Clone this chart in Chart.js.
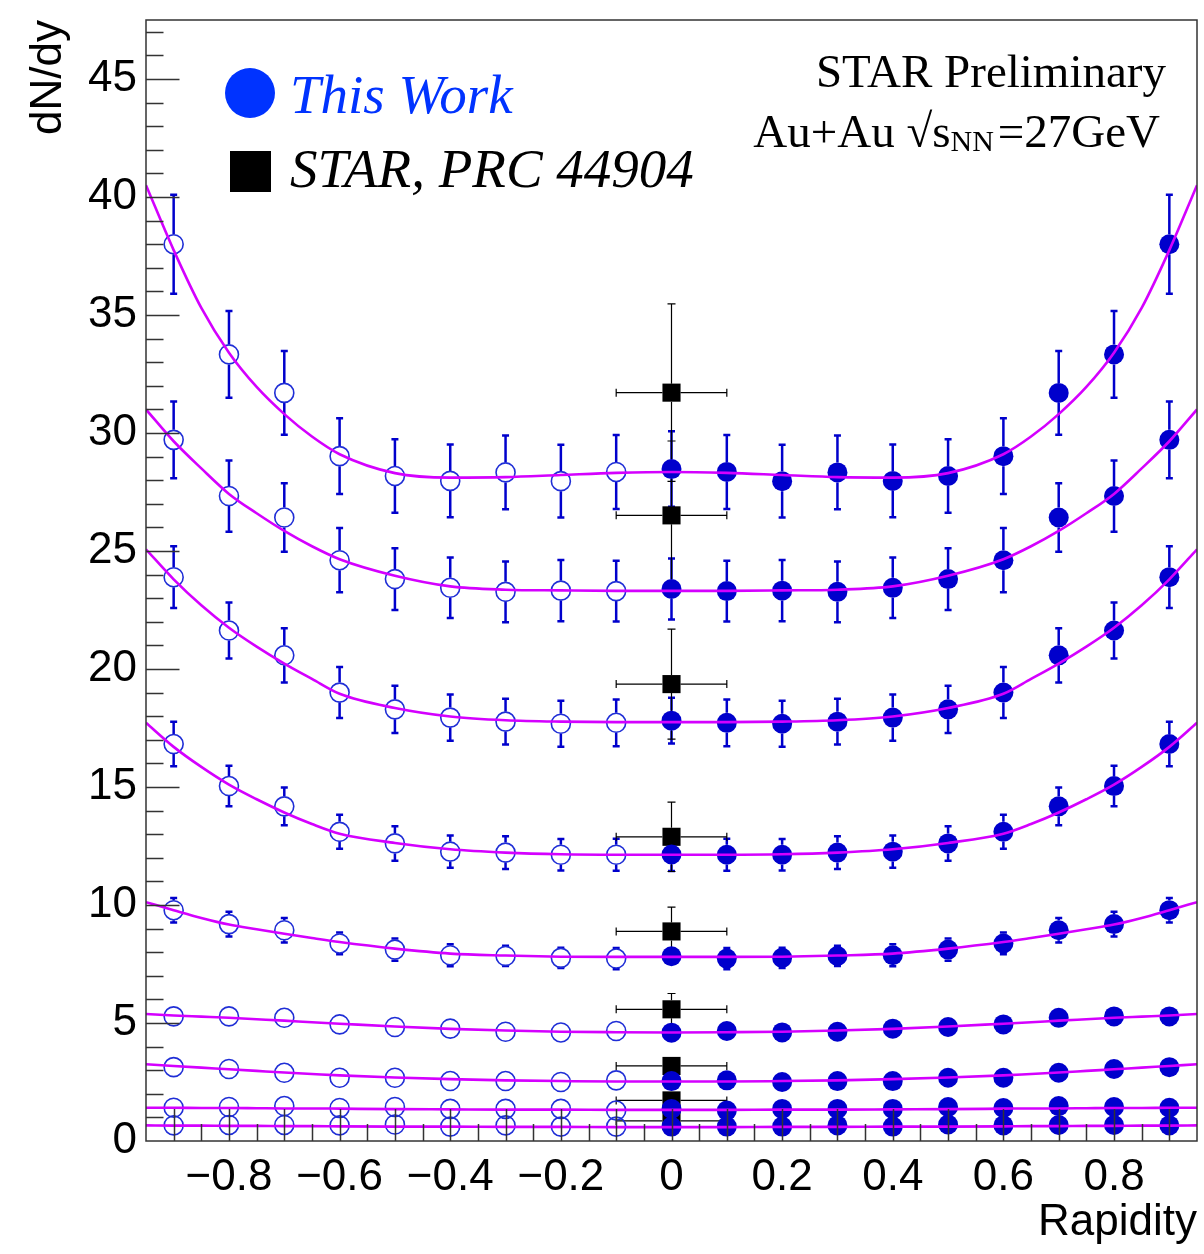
<!DOCTYPE html>
<html>
<head>
<meta charset="utf-8">
<title>dN/dy vs rapidity</title>
<script src="https://cdn.jsdelivr.net/npm/chart.js@4/dist/chart.umd.min.js"></script>
<style>
  body { margin: 0; background: #fff; }
  canvas { display: block; }
</style>
</head>
<body>
<canvas id="myChart" width="1204" height="1254"></canvas>
<script>
// measured rapidity bins (y >= 0); open markers are the same points reflected to -y
const rapidity = [0, 0.1, 0.2, 0.3, 0.4, 0.5, 0.6, 0.7, 0.8, 0.9];

// dN/dy per centrality class, most central first
const dndy = [
  [28.47, 28.35, 27.96, 28.33, 27.97, 28.18, 29.02, 31.70, 33.33, 38.00],
  [23.39, 23.30, 23.32, 23.27, 23.44, 23.81, 24.61, 26.42, 27.33, 29.71],
  [17.81, 17.72, 17.68, 17.77, 17.94, 18.29, 19.00, 20.58, 21.63, 23.89],
  [12.14, 12.13, 12.13, 12.22, 12.26, 12.61, 13.10, 14.18, 15.04, 16.82],
  [7.83, 7.73, 7.76, 7.84, 7.87, 8.11, 8.37, 8.93, 9.19, 9.78],
  [4.59, 4.66, 4.60, 4.63, 4.76, 4.83, 4.94, 5.22, 5.28, 5.28],
  [2.54, 2.57, 2.50, 2.54, 2.54, 2.68, 2.68, 2.89, 3.05, 3.13],
  [1.36, 1.29, 1.36, 1.36, 1.36, 1.44, 1.40, 1.48, 1.44, 1.41],
  [0.61, 0.61, 0.61, 0.66, 0.61, 0.70, 0.66, 0.68, 0.68, 0.66]
];

const dndyErr = [
  [1.60, 1.57, 1.54, 1.56, 1.54, 1.56, 1.61, 1.77, 1.84, 2.10],
  [1.29, 1.29, 1.30, 1.29, 1.28, 1.31, 1.36, 1.45, 1.51, 1.63],
  [0.97, 0.99, 0.97, 0.97, 0.98, 1.00, 1.08, 1.15, 1.19, 1.31],
  [0.70, 0.68, 0.67, 0.69, 0.68, 0.73, 0.72, 0.80, 0.86, 0.94],
  [0.42, 0.45, 0.43, 0.43, 0.47, 0.47, 0.46, 0.52, 0.52, 0.52],
  [0.25, 0.25, 0.25, 0.25, 0.26, 0.26, 0.27, 0.28, 0.29, 0.29],
  [0.15, 0.15, 0.15, 0.15, 0.15, 0.16, 0.16, 0.17, 0.17, 0.18],
  [0.08, 0.08, 0.08, 0.08, 0.08, 0.08, 0.08, 0.09, 0.09, 0.09],
  [0.04, 0.04, 0.04, 0.04, 0.04, 0.04, 0.04, 0.04, 0.04, 0.04]
];

// fit curves, sampled at these rapidities (symmetric in y)
const fitRapidity = [0, 0.1, 0.2, 0.3, 0.4, 0.5, 0.6, 0.65, 0.7, 0.75, 0.8, 0.85, 0.9, 0.95];
const fitDndy = [
  [28.35, 28.31, 28.22, 28.13, 28.11, 28.30, 29.10, 29.85, 30.80, 31.95, 33.40, 35.30, 37.75, 40.50],
  [23.31, 23.31, 23.33, 23.36, 23.50, 23.95, 24.65, 25.20, 25.85, 26.60, 27.42, 28.50, 29.65, 31.00],
  [17.75, 17.75, 17.77, 17.83, 17.99, 18.35, 18.95, 19.58, 20.23, 20.95, 21.75, 22.70, 23.80, 25.07],
  [12.13, 12.13, 12.15, 12.22, 12.36, 12.63, 13.02, 13.43, 13.92, 14.48, 15.10, 15.85, 16.70, 17.72],
  [7.80, 7.80, 7.81, 7.86, 7.94, 8.15, 8.43, 8.60, 8.78, 8.97, 9.17, 9.45, 9.78, 10.12],
  [4.60, 4.61, 4.63, 4.68, 4.75, 4.85, 4.97, 5.03, 5.10, 5.16, 5.22, 5.27, 5.32, 5.38],
  [2.52, 2.52, 2.54, 2.57, 2.62, 2.69, 2.78, 2.84, 2.90, 2.97, 3.04, 3.11, 3.18, 3.25],
  [1.32, 1.32, 1.33, 1.33, 1.34, 1.35, 1.37, 1.38, 1.38, 1.39, 1.40, 1.40, 1.41, 1.41],
  [0.59, 0.59, 0.60, 0.60, 0.61, 0.61, 0.62, 0.63, 0.63, 0.64, 0.64, 0.65, 0.65, 0.66]
];

// published STAR values at mid-rapidity
const starDndy = [31.71, 26.51, 19.36, 12.89, 8.88, 5.58, 3.18, 1.72, 0.85];
const starErr = [3.76, 3.15, 2.33, 1.47, 1.03, 0.67, 0.30, 0.15, 0.08];
const starRapErr = 0.1;

const xTickValues = [-0.8, -0.6, -0.4, -0.2, 0, 0.2, 0.4, 0.6, 0.8];
const yTickValues = [0, 5, 10, 15, 20, 25, 30, 35, 40, 45];

const SANS = '"Liberation Sans", Arial, Helvetica, sans-serif';
const SERIF = '"Liberation Serif", "Times New Roman", serif';
const BLUE = '#0000cc';
const FIT = '#d400ff';

// ---- datasets ----
const datasets = [];

fitDndy.forEach((row) => {
  const pts = [];
  for (let i = fitRapidity.length - 1; i > 0; i--) pts.push({ x: -fitRapidity[i], y: row[i] });
  for (let i = 0; i < fitRapidity.length; i++) pts.push({ x: fitRapidity[i], y: row[i] });
  datasets.push({
    type: 'line', data: pts, borderColor: FIT, borderWidth: 2.6,
    pointRadius: 0, cubicInterpolationMode: 'monotone', fill: false, order: 0
  });
});

dndy.forEach((row, k) => {
  datasets.push({
    type: 'scatter',
    data: row.map((v, i) => ({ x: rapidity[i], y: v, ey: dndyErr[k][i] })),
    pointStyle: 'circle', pointRadius: 10, backgroundColor: BLUE, borderColor: BLUE,
    borderWidth: 0, order: 1, errStyle: { color: BLUE, width: 2.5, cap: 3.5, r: 10 }
  });
  // reflected points
  datasets.push({
    type: 'scatter',
    data: row.slice(1).map((v, i) => ({ x: -rapidity[i + 1], y: v, ey: dndyErr[k][i + 1] })),
    pointStyle: 'circle', pointRadius: 9.5, backgroundColor: 'rgba(0,0,0,0)', borderColor: '#1f2ed6',
    borderWidth: 1.6, order: 1, errStyle: { color: BLUE, width: 2.5, cap: 3.5, r: 10 }
  });
});

datasets.push({
  type: 'scatter',
  data: starDndy.map((v, i) => ({ x: 0, y: v, ey: starErr[i], ex: starRapErr })),
  pointStyle: 'rect', pointRadius: 12.8, backgroundColor: '#000', borderWidth: 0,
  order: 2, errStyle: { color: '#000', width: 1.2, cap: 4, r: 9 }
});

// ---- plugins ----
const errorBars = {
  id: 'errorBars',
  beforeDatasetsDraw(chart) {
    const { ctx, chartArea: a, scales: { x, y } } = chart;
    ctx.save();
    ctx.beginPath();
    ctx.rect(a.left, a.top, a.right - a.left, a.bottom - a.top);
    ctx.clip();
    chart.data.datasets.forEach((ds) => {
      const st = ds.errStyle;
      if (!st) return;
      ctx.strokeStyle = st.color;
      ctx.lineWidth = st.width;
      ds.data.forEach((p) => {
        const px = x.getPixelForValue(p.x);
        const py = y.getPixelForValue(p.y);
        const top = y.getPixelForValue(p.y + p.ey);
        const bot = y.getPixelForValue(p.y - p.ey);
        ctx.beginPath();
        if (py - top > st.r) {
          ctx.moveTo(px, top); ctx.lineTo(px, py - st.r);
          ctx.moveTo(px, py + st.r); ctx.lineTo(px, bot);
          ctx.moveTo(px - st.cap, top); ctx.lineTo(px + st.cap, top);
          ctx.moveTo(px - st.cap, bot); ctx.lineTo(px + st.cap, bot);
        }
        if (p.ex) {
          const lx = x.getPixelForValue(p.x - p.ex);
          const rx = x.getPixelForValue(p.x + p.ex);
          ctx.moveTo(lx, py); ctx.lineTo(px - st.r, py);
          ctx.moveTo(px + st.r, py); ctx.lineTo(rx, py);
          ctx.moveTo(lx, py - st.cap); ctx.lineTo(lx, py + st.cap);
          ctx.moveTo(rx, py - st.cap); ctx.lineTo(rx, py + st.cap);
        }
        ctx.stroke();
      });
    });
    ctx.restore();
  }
};

// frame with inward ticks
const frameTicks = {
  id: 'frameTicks',
  afterDraw(chart) {
    const { ctx, chartArea: a, scales: { x, y } } = chart;
    ctx.save();
    ctx.strokeStyle = '#333';
    ctx.lineWidth = 1.5;
    ctx.strokeRect(a.left, a.top, a.right - a.left, a.bottom - a.top);
    ctx.beginPath();
    for (let v = 1; v <= y.max; v++) {
      const py = Math.round(y.getPixelForValue(v)) + 0.5;
      const len = v % 5 === 0 ? 33.5 : 17.5;
      ctx.moveTo(a.left, py); ctx.lineTo(a.left + len, py);
    }
    for (let k = -19; k <= 19; k++) {
      const v = k * 0.05;
      if (Math.abs(v) > x.max - 1e-9) continue;
      const px = Math.round(x.getPixelForValue(v)) + 0.5;
      const len = k % 2 === 0 ? 32 : 17;
      ctx.moveTo(px, a.bottom); ctx.lineTo(px, a.bottom - len);
    }
    ctx.stroke();
    ctx.restore();
  }
};

const legendAndLabels = {
  id: 'legendAndLabels',
  afterDraw(chart) {
    const ctx = chart.ctx;
    ctx.save();
    // legend
    ctx.fillStyle = '#0033ff';
    ctx.beginPath();
    ctx.arc(250, 93, 25, 0, Math.PI * 2);
    ctx.fill();
    ctx.font = 'italic 55px ' + SERIF;
    ctx.textBaseline = 'alphabetic';
    ctx.textAlign = 'left';
    ctx.fillText('This Work', 290, 113);
    ctx.fillStyle = '#000';
    ctx.fillRect(230, 151, 41, 41);
    ctx.fillText('STAR, PRC 44904', 290, 187);

    // collision label
    ctx.font = '47px ' + SERIF;
    ctx.textAlign = 'right';
    ctx.fillText('STAR Preliminary', 1166, 87);
    const parts = [
      { t: 'Au+Au \u221As', size: 47, dy: 0 },
      { t: 'NN', size: 30, dy: 4 },
      { t: '\u200a=27GeV', size: 47, dy: 0 }
    ];
    ctx.textAlign = 'left';
    let total = 0;
    parts.forEach((p) => { ctx.font = p.size + 'px ' + SERIF; p.w = ctx.measureText(p.t).width; total += p.w; });
    let cx = 1160 - total;
    parts.forEach((p) => {
      ctx.font = p.size + 'px ' + SERIF;
      ctx.fillText(p.t, cx, 147 + p.dy);
      cx += p.w;
    });
    ctx.restore();
  }
};

const axisFont = { family: SANS, size: 44, lineHeight: 1.2 };

new Chart(document.getElementById('myChart').getContext('2d'), {
  data: { datasets },
  options: {
    responsive: false,
    animation: false,
    devicePixelRatio: 1,
    layout: { autoPadding: false, padding: { left: 0, right: 7, top: 20, bottom: 0 } },
    plugins: { legend: { display: false }, tooltip: { enabled: false } },
    scales: {
      x: {
        type: 'linear', min: -0.95, max: 0.95,
        grid: { display: false, drawTicks: false },
        border: { display: false },
        afterBuildTicks: (s) => { s.ticks = xTickValues.map((v) => ({ value: v })); },
        afterFit: (s) => { s.height = 113; s.paddingLeft = 0; s.paddingRight = 0; },
        ticks: {
          font: axisFont, color: '#000', padding: 10, maxRotation: 0, autoSkip: false,
          callback: (v) => (v === 0 ? '0' : (v < 0 ? '\u2212' : '') + Math.abs(v).toFixed(1))
        },
        title: { display: true, text: 'Rapidity', align: 'end', color: '#000', font: axisFont, padding: { top: 0, bottom: 5 } }
      },
      y: {
        type: 'linear', min: 0, max: 47.5,
        grid: { display: false, drawTicks: false },
        border: { display: false },
        afterBuildTicks: (s) => { s.ticks = yTickValues.map((v) => ({ value: v })); },
        afterFit: (s) => { s.width = 146; s.paddingTop = 0; s.paddingBottom = 0; },
        ticks: { font: axisFont, color: '#000', padding: 9, callback: (v) => String(v) },
        title: { display: true, text: 'dN/dy', align: 'end', color: '#000', font: axisFont, padding: { top: 22, bottom: 0 } }
      }
    }
  },
  plugins: [errorBars, frameTicks, legendAndLabels]
});
</script>
</body>
</html>
